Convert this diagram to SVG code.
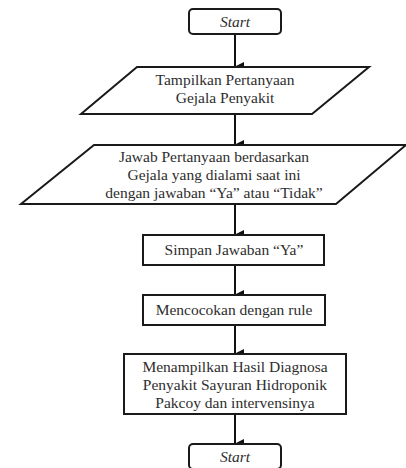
<svg xmlns="http://www.w3.org/2000/svg" width="406" height="468" viewBox="0 0 406 468">
<defs>
<marker id="ah" markerWidth="10" markerHeight="11" refX="5" refY="10" orient="auto-start-reverse" markerUnits="userSpaceOnUse" viewBox="0 0 10 11">
<path d="M0,1 L10,1 L5,11 Z" fill="#111"/>
</marker>
<style>
.box{fill:#fff;stroke:#1a1a1a;stroke-width:2}
.t{font-size:15.5px;fill:#2e2e2e;text-anchor:middle}
.it{font-style:italic}
.c{stroke:#111;stroke-width:2;fill:none}
</style>
</defs>
<rect width="406" height="468" fill="#fff"/>
<g id="connectors">
<line class="c" x1="235" y1="34" x2="235" y2="67" marker-end="url(#ah)"/>
<line class="c" x1="235" y1="114" x2="235" y2="145" marker-end="url(#ah)"/>
<line class="c" x1="235" y1="204" x2="235" y2="235" marker-end="url(#ah)"/>
<line class="c" x1="235" y1="265" x2="235" y2="295" marker-end="url(#ah)"/>
<line class="c" x1="235" y1="325" x2="235" y2="354" marker-end="url(#ah)"/>
<line class="c" x1="235" y1="414" x2="235" y2="444" marker-end="url(#ah)"/>
</g>
<g font-family="'Liberation Serif', 'Times New Roman', serif">
<g id="start">
<rect class="box" x="189" y="9" width="92" height="25" rx="4"/>
<text class="t it" x="235" y="27">Start</text>
</g>
<g id="tampilkan">
<polygon class="box" points="137,67 369,67 312,114 81,114"/>
<text class="t" x="225" y="85">Tampilkan Pertanyaan</text>
<text class="t" x="225" y="103">Gejala Penyakit</text>
</g>
<g id="jawab">
<polygon class="box" points="94,145 406,145 336,204 21,204"/>
<text class="t" x="214" y="162">Jawab Pertanyaan berdasarkan</text>
<text class="t" x="214" y="180">Gejala yang dialami saat ini</text>
<text class="t" x="214" y="198">dengan jawaban “Ya” atau “Tidak”</text>
</g>
<g id="simpan">
<rect class="box" x="143" y="235" width="181" height="30"/>
<text class="t" x="234" y="255">Simpan Jawaban “Ya”</text>
</g>
<g id="mencocokan">
<rect class="box" x="143" y="295" width="182" height="30"/>
<text class="t" x="234" y="315">Mencocokan dengan rule</text>
</g>
<g id="menampilkan">
<rect class="box" x="124" y="354" width="222" height="60"/>
<text class="t" x="235" y="372">Menampilkan Hasil Diagnosa</text>
<text class="t" x="235" y="390">Penyakit Sayuran Hidroponik</text>
<text class="t" x="235" y="408">Pakcoy dan intervensinya</text>
</g>
<g id="end">
<rect class="box" x="189" y="444" width="92" height="25" rx="4"/>
<text class="t it" x="235" y="462">Start</text>
</g>
</g>
</svg>
